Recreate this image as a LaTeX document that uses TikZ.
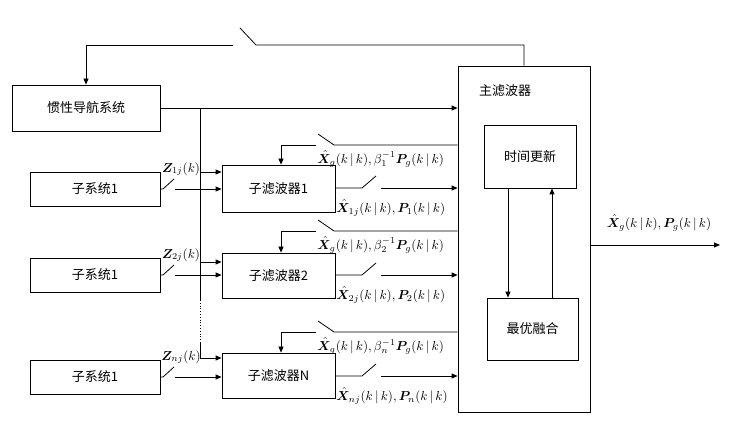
\documentclass[tikz,border=0pt]{standalone}
\usepackage{amsmath,bm}
\usepackage{fontspec}
\newfontfamily\cjk{Noto Sans CJK SC}
\usetikzlibrary{arrows.meta}
\newcommand{\mylabm}[1]{\scalebox{1.3}{$#1$}}
\begin{document}
\begin{tikzpicture}[x=1pt,y=-1pt,line width=0.8pt,
  box/.style={draw,rectangle,inner sep=0pt,font=\cjk\fontsize{13}{15}\selectfont},
  arr/.style={-{Triangle[length=6pt,width=5pt]}},
  lab/.style={inner sep=1pt}]
\useasboundingbox (0,0) rectangle (752,427);
% boxes
\node[box,minimum width=148pt,minimum height=46pt] (ins) at (86,108) {惯性导航系统};
\node[box,minimum width=130pt,minimum height=34pt] (s1) at (95,189) {子系统1};
\node[box,minimum width=130pt,minimum height=34pt] (s2) at (95,275) {子系统1};
\node[box,minimum width=130pt,minimum height=34pt] (s3) at (95,377) {子系统1};
\node[box,minimum width=113pt,minimum height=47pt] (f1) at (278.5,188.5) {子滤波器1};
\node[box,minimum width=113pt,minimum height=45pt] (f2) at (278.5,275.5) {子滤波器2};
\node[box,minimum width=113pt,minimum height=45pt] (fn) at (278.5,375.5) {子滤波器N};
\node[box,minimum width=132pt,minimum height=346pt] (m) at (524,239) {};
\node[font=\cjk\fontsize{13}{15}\selectfont] (mt) at (505,91) {主滤波器};
\node[box,minimum width=92pt,minimum height=63pt] (tu) at (530,156.5) {时间更新};
\node[box,minimum width=91pt,minimum height=62pt] (of) at (532.5,329) {最优融合};
% inner arrows
\draw[arr] (tu.south -| 508,0) -- (of.north -| 508,0);
\draw[arr] (of.north -| 552,0) -- (tu.south -| 552,0);
% top feedback
\coordinate (t1) at (233,45); \coordinate (t2) at (256,45);
\draw (m.north -| 524,0) -- (524,45) -- (t2) -- (240,28);
\draw[arr] (t1) -- (86,45) -- (ins.north);
% INS output and bus
\draw[arr] (ins.east) -- (ins.east -| m.west);
\draw (200,108) -- (200,300);
\draw[dotted] (200,300) -- (200,343);
\draw[arr] (200,343) -- (200,358) -- (fn.west |- 0,358);
\draw[arr] (200,172) -- (f1.west |- 0,172);
\draw[arr] (200,262) -- (f2.west |- 0,262);
% subsystem inputs with switches
\foreach \s/\f/\y/\l in {s1/f1/189/{1j},s2/f2/275/{2j},s3/fn/377/{nj}}{
  \draw (\s.east) -- (163,\y) -- (174,\y-10);
  \coordinate (a\s) at (175,\y);
  \draw[arr] (a\s) -- (\f.west |- 0,\y);
  \node[lab] at (181,\y-20) {\mylabm{\bm{Z}_{\l}(k)}};
}
% filter outputs
\foreach \f/\y/\i/\l in {f1/188/1/{1j},f2/275/2/{2j},fn/376/n/{nj}}{
  \draw (\f.east |- 0,\y) -- (362,\y) -- (376,\y-12);
  \coordinate (b\f) at (381,\y);
  \draw[arr] (b\f) -- (m.west |- 0,\y);
  \node[lab,anchor=west] at (335,\y+20) {\mylabm{\hat{\bm{X}}_{\l}(k\,|\,k),\bm{P}_{\i}(k\,|\,k)}};
}
% feedback to filters
\foreach \f/\y/\i in {f1/145/1,f2/231/2,fn/332/n}{
  \draw (m.west |- 0,\y) -- (334,\y) -- (318,\y-11);
  \coordinate (c\f) at (316,\y);
  \draw[arr] (c\f) -- (281,\y) -- (\f.north -| 281,0);
  \node[lab,anchor=west] at (316,\y+14) {\mylabm{\hat{\bm{X}}_{g}(k\,|\,k),\beta_{\i}^{-1}\bm{P}_{g}(k\,|\,k)}};
}
% main output
\coordinate (out) at (720,245);
\draw[arr] (m.east |- 0,245) -- (out);
\node[lab] at (659,223) {\mylabm{\hat{\bm{X}}_{g}(k\,|\,k),\bm{P}_{g}(k\,|\,k)}};
\end{tikzpicture}
\end{document}
